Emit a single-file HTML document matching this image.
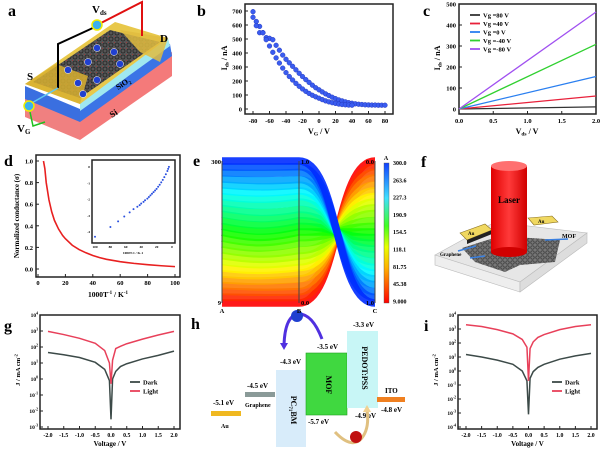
<!DOCTYPE html>
<html><head><meta charset="utf-8">
<style>
html,body{margin:0;padding:0;background:#fff;}
svg{display:block;font-family:"Liberation Serif",serif;font-weight:bold;}
</style></head>
<body>
<svg id="fig" width="600" height="449" viewBox="0 0 600 449" xmlns="http://www.w3.org/2000/svg">
<defs>
<linearGradient id="cbar" x1="0" y1="1" x2="0" y2="0">
<stop offset="0" stop-color="#ff0000"/><stop offset="0.25" stop-color="#ffb000"/><stop offset="0.4" stop-color="#e8ff00"/><stop offset="0.55" stop-color="#40ff20"/><stop offset="0.75" stop-color="#40e0ff"/><stop offset="1" stop-color="#1040ff"/>
</linearGradient>
<linearGradient id="cyl" x1="0" x2="1"><stop offset="0" stop-color="#e00000"/><stop offset="0.5" stop-color="#ff3a3a"/><stop offset="1" stop-color="#d00000"/></linearGradient>
<pattern id="hex" width="6" height="6" patternUnits="userSpaceOnUse"><rect width="6" height="6" fill="#555"/><circle cx="3" cy="3" r="2" fill="none" stroke="#222" stroke-width="0.8"/><circle cx="0" cy="0" r="0.9" fill="#c22"/></pattern>
<pattern id="gr" width="5" height="5" patternUnits="userSpaceOnUse"><rect width="5" height="5" fill="#777"/><circle cx="2.5" cy="2.5" r="1.7" fill="none" stroke="#333" stroke-width="0.7"/></pattern>
</defs>

<!-- ===== Panel a ===== -->
<g>
<text x="8" y="16" font-size="16">a</text>
<polygon points="25,95 80,118 80,140 25,117" fill="#f08080"/>
<polygon points="80,118 172,52 172,76 80,140" fill="#f47a7a"/>
<polygon points="25,86 80,109 80,122 25,99" fill="#3a6fe0"/>
<polygon points="80,109 170,44 172,56 80,122" fill="#3b74e6"/>
<polygon points="80,103 168,38 170,46 80,111" fill="#9fe8f0"/>
<polygon points="25,84 115,22 168,38 80,104" fill="#e8c84a"/>
<polygon points="33,82 110,30 160,42 80,98" fill="url(#hex)"/>
<polygon points="25,84 56,64 88,76 80,104" fill="#d8b030" opacity="0.85"/>
<polygon points="120,30 168,38 160,62 140,52" fill="#e0bc40" opacity="0.85"/>
<polyline points="58,88 58,44 95,27" fill="none" stroke="#000" stroke-width="2"/>
<polyline points="99,24 142,2 142,36" fill="none" stroke="#e01010" stroke-width="2"/>
<circle cx="97" cy="25" r="5" fill="#3bb0f0" stroke="#ee0" stroke-width="1.5"/>
<polyline points="30,104 58,88" fill="none" stroke="#60c8f0" stroke-width="1.5"/>
<polyline points="30,112 33,126 45,122" fill="none" stroke="#20c020" stroke-width="1.5"/>
<circle cx="29" cy="106" r="5" fill="#3bb0f0" stroke="#ee0" stroke-width="1.5"/>
<g fill="#2040d0" stroke="#fff" stroke-width="0.5">
<circle cx="97" cy="48" r="3.5"/><circle cx="114" cy="52" r="3.5"/><circle cx="88" cy="62" r="3.5"/><circle cx="120" cy="64" r="3.5"/><circle cx="68" cy="70" r="3.5"/><circle cx="78" cy="83" r="3.5"/><circle cx="97" cy="80" r="3.5"/><circle cx="83" cy="94" r="3.5"/>
</g>
<text x="92" y="13" font-size="11">V<tspan font-size="7" dy="2">ds</tspan></text>
<text x="160" y="42" font-size="11">D</text>
<text x="27" y="80" font-size="11">S</text>
<text x="17" y="132" font-size="11">V<tspan font-size="7" dy="2">G</tspan></text>
<text x="118" y="90" font-size="8" transform="rotate(-33 118 90)">SiO<tspan font-size="5" dy="2">2</tspan></text>
<text x="112" y="118" font-size="9" transform="rotate(-33 112 118)">Si</text>
</g>

<!-- ===== Panel f ===== -->
<g>
<text x="421" y="167" font-size="16">f</text>
<polygon points="435,255 495,222 587,233 520,282" fill="#e6e6e6" stroke="#bbb" stroke-width="0.6"/>
<polygon points="435,255 520,282 520,292 435,265" fill="#eee" stroke="#bbb" stroke-width="0.6"/>
<polygon points="520,282 587,233 587,243 520,292" fill="#ddd" stroke="#bbb" stroke-width="0.6"/>
<polygon points="462,248 500,236 560,240 555,262 520,265 505,272 475,262" fill="url(#gr)"/>
<polygon points="460,233 485,224 492,230 467,240" fill="#f0d860" stroke="#8a7020" stroke-width="0.6"/>
<polygon points="467,240 492,230 492,234 467,244" fill="#222"/>
<polygon points="528,218 552,216 558,222 534,225" fill="#f0d860" stroke="#8a7020" stroke-width="0.6"/>
<text x="468" y="235" font-size="5">Au</text>
<text x="538" y="223" font-size="5">Au</text>
<rect x="491" y="166" width="36" height="86" fill="url(#cyl)"/>
<ellipse cx="509" cy="166" rx="18" ry="5" fill="#ff7070"/>
<ellipse cx="509" cy="252" rx="18" ry="5" fill="#d00000"/>
<text x="509" y="203" font-size="9" text-anchor="middle">Laser</text>
<path d="M545,240 L568,239 M458,251 L476,246 M470,258 L485,256" stroke="#3a80e0" stroke-width="1.5" fill="none"/>
<text x="562" y="238" font-size="6">MOF</text>
<text x="440" y="256" font-size="5">Graphene</text>
</g>

<!-- ===== Panel h ===== -->
<g font-size="7">
<text x="191" y="329" font-size="16">h</text>
<rect x="211" y="411" width="30" height="5" fill="#f0b820"/>
<text x="213" y="405">-5.1 eV</text>
<text x="221" y="428" font-size="6">Au</text>
<rect x="245" y="392" width="30" height="5" fill="#8a9a98"/>
<text x="247" y="388">-4.5 eV</text>
<text x="245" y="407" font-size="6">Graphene</text>
<rect x="276" y="370" width="30" height="77" fill="#d8ecfa"/>
<text x="291" y="410" font-size="8" transform="rotate(90 291 410)" text-anchor="middle">PC<tspan font-size="5" dy="2">71</tspan><tspan dy="-2">BM</tspan></text>
<text x="280" y="364">-4.3 eV</text>
<text x="281" y="456">-6.1 eV</text>
<rect x="306" y="353" width="41" height="62" fill="#40d840" stroke="#20a020" stroke-width="0.6"/>
<text x="326" y="385" font-size="8" transform="rotate(90 326 385)" text-anchor="middle">MOF</text>
<text x="317" y="349">-3.5 eV</text>
<text x="308" y="424">-5.7 eV</text>
<rect x="347" y="331" width="31" height="77" fill="#c8f6f6"/>
<text x="362" y="368" font-size="8" transform="rotate(90 362 368)" text-anchor="middle">PEDOT:PSS</text>
<text x="353" y="327">-3.3 eV</text>
<text x="355" y="418">-4.9 eV</text>
<rect x="377" y="397" width="28" height="5" fill="#f08020"/>
<text x="385" y="393">ITO</text>
<text x="381" y="412">-4.8 eV</text>
<path d="M322,339 Q312,313 298,314 Q285,316 284,345" fill="none" stroke="#5030e0" stroke-width="3"/>
<polygon points="280,343 288,343 284,350" fill="#5030e0"/>
<circle cx="297" cy="316" r="6" fill="#2040d0"/>
<path d="M335,432 Q350,448 360,440 Q370,430 367,410" fill="none" stroke="#e0c080" stroke-width="3"/>
<polygon points="363,412 371,412 367,405" fill="#f0d090"/>
<circle cx="356" cy="437" r="6" fill="#c01010"/>
</g>

<g id="charts"></g>

<script>
var NS="http://www.w3.org/2000/svg";
var root=document.getElementById('charts');
function mk(tag,attrs,parent,txt){var e=document.createElementNS(NS,tag);for(var k in attrs)e.setAttribute(k,attrs[k]);if(txt!==undefined)e.textContent=txt;(parent||root).appendChild(e);return e;}
function rich(parent,attrs,parts){var t=mk('text',attrs,parent);parts.forEach(function(p){var a={};if(p[1])a['font-size']=p[1];if(p[2])a.dy=p[2];mk('tspan',a,t,p[0]);});return t;}

// ---------- Panel b data ----------
var bForwardV=[-80,-76,-72,-68,-64,-60,-56,-52,-48,-44,-40,-36,-32,-28,-24,-20,-16,-12,-8,-4,0,4,8,12,16,20,24,28,32,36,40,44,48,52,56,60,64,68,72,76,80];
var bForwardI=[695,625,590,545,510,505,495,455,420,385,355,330,305,280,255,232,210,190,170,152,137,122,108,96,84,74,65,58,51,45,41,37,34,32,30,29,28,28,27,27,27];
var bReverseV=[-80,-76,-72,-68,-64,-60,-56,-52,-48,-44,-40,-36,-32,-28,-24,-20,-16,-12,-8,-4,0,4,8,12,16,20,24,28,32,36,40];
var bReverseI=[655,595,545,545,495,450,405,365,328,292,260,232,207,183,162,143,126,111,98,87,77,67,58,51,45,40,35,32,30,28,27];
var bYTicks=[0,100,200,300,400,500,600,700];
var bXTicks=[-80,-60,-40,-20,0,20,40,60,80];

// ---------- Panel c data ----------
var cLabels=["Vg =80 V","Vg =40 V","Vg =0 V","Vg =-40 V","Vg =-80 V"];
var cColors=["#333333","#e8203a","#2a7ff0","#30d030","#a050f0"];
var cIdsAt2V=[10,62,155,308,462];
var cXTicks=[0.0,0.5,1.0,1.5,2.0];
var cYTicks=[0,100,200,300,400,500];

// ---------- Panel d data ----------
var dX=[4,5,6,8,10,12,15,18,20,25,30,35,40,45,50,60,70,80,90,100];
var dSigma=[1.0,0.93,0.8,0.64,0.53,0.45,0.37,0.31,0.28,0.22,0.18,0.15,0.125,0.105,0.09,0.068,0.052,0.04,0.03,0.022];
var dXTicks=[0,20,40,60,80,100];
var dYTicks=[0.0,0.2,0.4,0.6,0.8,1.0];
var dInsetX=[100,80,70,62,55,50,45,42,40,37,35,32,30,28,26,24,22,20,18,16,14,12,10,8,6,5,4];
var dInsetY=[-4.3,-3.7,-3.35,-3.05,-2.8,-2.6,-2.45,-2.35,-2.25,-2.15,-2.05,-1.95,-1.85,-1.75,-1.65,-1.55,-1.45,-1.35,-1.22,-1.1,-0.95,-0.8,-0.63,-0.45,-0.25,-0.12,0];

// ---------- Panel e data ----------
var eA=[9,21,33,45,57,69,81,94,106,118,130,142,154,166,178,191,203,215,227,239,251,263,276,288,300];
var eB=[0,0.04,0.08,0.12,0.17,0.21,0.25,0.29,0.33,0.37,0.42,0.46,0.5,0.54,0.58,0.62,0.66,0.71,0.75,0.79,0.83,0.87,0.92,0.96,1.0];
var eC=[0,0.04,0.08,0.12,0.17,0.21,0.25,0.29,0.33,0.37,0.42,0.46,0.5,0.54,0.58,0.62,0.66,0.71,0.75,0.79,0.83,0.87,0.92,0.96,1.0];
var eCbarLabels=["300.0","263.6","227.3","190.9","154.5","118.1","81.75","45.38","9.000"];

// ---------- Panel g / i data ----------
var gV=[-2,-1.5,-1,-0.5,-0.2,-0.05,0,0.05,0.15,0.3,0.5,1,1.5,2];
var gDark=[45,33,22,11,4,0.8,0.003,1,3,6,9,18,30,55];
var gLight=[950,600,350,170,60,10,0.5,15,80,110,160,310,560,950];
var iDark=[15,10,6,3,1,0.2,0.0008,0.3,0.9,1.8,3,7,12,18];
var iLight=[2000,1500,900,450,180,50,0.2,40,120,250,400,900,1500,2000];
var vTicks=[-2.0,-1.5,-1.0,-0.5,0.0,0.5,1.0,1.5,2.0];

function lin(d0,d1,r0,r1){return function(v){return r0+(v-d0)/(d1-d0)*(r1-r0);};}
function logs(e0,e1,r0,r1){return function(v){return r0+(Math.log10(v)-e0)/(e1-e0)*(r1-r0);};}
function frame(g,x0,y0,x1,y1,name){var r=mk('rect',{x:x0,y:y0,width:x1-x0,height:y1-y0,fill:'none',stroke:'#222','stroke-width':1.5},g);}
function fmt(v,d){return v.toFixed(d);}

// ===== Panel b =====
(function(){
var g=mk('g',{});


mk('text',{x:197,y:16,'font-size':16},g,'b');
var X=lin(-80,80,253,385),Y=lin(0,700,109,11);
frame(g,245,4,393,114,'plot-frame-b');
bYTicks.forEach(function(t){mk('line',{x1:245,x2:248,y1:Y(t),y2:Y(t),stroke:'#222'},g);var tx=mk('text',{x:242,y:Y(t)+2.5,'font-size':6.5,'text-anchor':'end'},g,t);});
bXTicks.forEach(function(t){mk('line',{x1:X(t),x2:X(t),y1:114,y2:111,stroke:'#222'},g);var tx=mk('text',{x:X(t),y:123,'font-size':6.5,'text-anchor':'middle'},g,t);});
var yt=rich(g,{x:0,y:0,'font-size':8,'text-anchor':'middle',transform:'translate(227,58) rotate(-90)'},[['I'],['ds',5.5,1.5],[' / nA',null,-1.5]]);

var xt=rich(g,{x:319,y:134,'font-size':8,'text-anchor':'middle'},[['V'],['G',5.5,1.5],[' / V',null,-1.5]]);

[[bForwardV,bForwardI],[bReverseV,bReverseI]].forEach(function(s,si){s[0].forEach(function(v,i){var c=mk('circle',{cx:X(v),cy:Y(s[1][i]),r:2.4,fill:'#3a5cf0',stroke:'#2030b0','stroke-width':0.4},g);});});
})();

// ===== Panel c =====
(function(){
var g=mk('g',{});


mk('text',{x:423,y:16,'font-size':16},g,'c');
var X=lin(0,2,459,596),Y=lin(0,500,109,4);
frame(g,459,4,596,114,'plot-frame-c');
cYTicks.forEach(function(t){mk('line',{x1:459,x2:462,y1:Y(t),y2:Y(t),stroke:'#222'},g);var tx=mk('text',{x:456,y:Y(t)+2.5,'font-size':6.5,'text-anchor':'end'},g,t);});
cXTicks.forEach(function(t){mk('line',{x1:X(t),x2:X(t),y1:114,y2:111,stroke:'#222'},g);var tx=mk('text',{x:X(t),y:123,'font-size':6.5,'text-anchor':'middle'},g,fmt(t,1));});
var yt=rich(g,{x:0,y:0,'font-size':8,'text-anchor':'middle',transform:'translate(440,58) rotate(-90)'},[['I'],['ds',5.5,1.5],[' / nA',null,-1.5]]);

var xt=rich(g,{x:527,y:134,'font-size':8,'text-anchor':'middle'},[['V'],['ds',5.5,1.5],[' / V',null,-1.5]]);

cIdsAt2V.forEach(function(v,i){var l=mk('line',{x1:X(0),y1:Y(0),x2:X(2),y2:Y(v),stroke:cColors[i],'stroke-width':1.3},g);
var ly=15+i*8.5;mk('line',{x1:470,x2:480,y1:ly,y2:ly,stroke:cColors[i],'stroke-width':1.8},g);var lt=mk('text',{x:483,y:ly+2.5,'font-size':6.5},g,cLabels[i]);});
})();

// ===== Panel d =====
(function(){
var g=mk('g',{});


mk('text',{x:4,y:166,'font-size':16},g,'d');
var X=lin(0,100,38,175),Y=lin(0,1,269,161);
frame(g,36,155,180,277,'plot-frame-d');
dYTicks.forEach(function(t){mk('line',{x1:36,x2:39,y1:Y(t),y2:Y(t),stroke:'#222'},g);var tx=mk('text',{x:33,y:Y(t)+2.5,'font-size':6.5,'text-anchor':'end'},g,fmt(t,1));});
dXTicks.forEach(function(t){mk('line',{x1:X(t),x2:X(t),y1:277,y2:274,stroke:'#222'},g);var tx=mk('text',{x:X(t),y:285,'font-size':6.5,'text-anchor':'middle'},g,t);});
var yt=mk('text',{x:0,y:0,'font-size':7,'text-anchor':'middle',transform:'translate(19,216) rotate(-90)'},g,'Normalized conductance (σ)');
var xt=rich(g,{x:108,y:297,'font-size':7.5,'text-anchor':'middle'},[['1000T'],['-1',5,-3],[' / K',null,3],['-1',5,-3]]);

var p=dX.map(function(v,i){return X(v)+','+Y(dSigma[i]);}).join(' ');
var pl=mk('polyline',{points:p,fill:'none',stroke:'#e82020','stroke-width':1.6},g);
var IX=lin(100,0,95,172),IY=lin(-4.5,0.3,240,162);
frame(g,92,160,175,243,'inset-frame');
[100,80,60,40,20,0].forEach(function(t){var tx=mk('text',{x:IX(t),y:248,'font-size':3.5,'text-anchor':'middle'},g,t);});
[0,-1,-2,-3,-4].forEach(function(t){var tx=mk('text',{x:90,y:IY(t)+1.2,'font-size':3.5,'text-anchor':'end'},g,t);});
var it=mk('text',{x:133,y:254,'font-size':3.5,'text-anchor':'middle'},g,'1000T-1 / K-1');
dInsetX.forEach(function(v,i){var c=mk('circle',{cx:IX(v),cy:IY(dInsetY[i]),r:1,fill:'#2a50e0'},g);});
})();

// ===== Panel e =====
(function(){
var g=mk('g',{});


mk('text',{x:193,y:166,'font-size':16},g,'e');
var xA=222,xB=299,xC=375,yT=161,yBot=303;
var YA=lin(9,300,yBot,yT),YB=lin(0,1,yBot,yT),YC=lin(0,1,yT,yBot);
function col(v){var t=(v-9)/291;var h=t*230;return 'hsl('+h+',100%,50%)';}
eA.forEach(function(a,i){var ya=YA(a),yb=YB(eB[i]),yc=YC(eC[i]);var dip=(0.5-Math.abs(eB[i]-0.5))*14;
var d='M'+xA+','+ya+' C'+(xA+30)+','+(ya+dip)+' '+(xB-30)+','+(yb+dip)+' '+xB+','+yb+' C'+(xB+40)+','+yb+' '+(xC-40)+','+yc+' '+xC+','+yc;
var pth=mk('path',{d:d,fill:'none',stroke:col(a),'stroke-width':7.5,'stroke-opacity':0.9},g);});
[xA,xB,xC].forEach(function(x){mk('line',{x1:x,x2:x,y1:yT,y2:yBot,stroke:'#444','stroke-width':1},g);});
[['300',xA-1,yT+3,'end'],['9',xA-1,yBot+2,'end'],['1.0',xB+2,yT+3,'start'],['0.0',xB+2,yBot+2,'start'],['0.0',xC-1,yT+3,'end'],['1.0',xC-1,yBot+2,'end'],['A',xA,yBot+10,'middle'],['B',xB,yBot+10,'middle'],['C',xC,yBot+10,'middle']].forEach(function(s){var t=mk('text',{x:s[1],y:s[2],'font-size':6.5,'text-anchor':s[3]},g,s[0]);});
var cb=mk('rect',{x:384,y:163,width:5,height:140,fill:'url(#cbar)',stroke:'#555','stroke-width':0.4},g);
mk('text',{x:386,y:160,'font-size':6,'text-anchor':'middle'},g,'A');
eCbarLabels.forEach(function(l,i){var t=mk('text',{x:393,y:165+i*17.3,'font-size':6},g,l);});
})();

// ===== Panels g and i =====
function ivPanel(name,letter,lx,x0,x1,eTop,eBot,dark,light,legX){
var g=mk('g',{});


mk('text',{x:lx,y:331,'font-size':16},g,letter);
var y0=315,y1=429;
var X=lin(-2,2,x0+8,x1-6),Y=logs(eBot,eTop,y1-2,y0);
frame(g,x0,y0,x1,y1,'plot-frame-'+letter);
for(var e=eBot;e<=eTop;e++){var yy=Y(Math.pow(10,e));mk('line',{x1:x0,x2:x0+3,y1:yy,y2:yy,stroke:'#222'},g);var t=rich(g,{x:x0-2,y:yy+2,'font-size':5.5,'text-anchor':'end'},[['10'],[String(e),3.8,-2.5]]);}
vTicks.forEach(function(v){mk('line',{x1:X(v),x2:X(v),y1:y1,y2:y1-3,stroke:'#222'},g);var t=mk('text',{x:X(v),y:437,'font-size':5.8,'text-anchor':'middle'},g,fmt(v,1));});
var yt=rich(g,{x:0,y:0,'font-size':6.5,'text-anchor':'middle',transform:'translate('+(x0-20)+',370) rotate(-90)'},[['J / mA cm'],['-2',4.5,-2.5]]);
var xt=mk('text',{x:(x0+x1)/2,y:446,'font-size':7,'text-anchor':'middle'},g,'Voltage / V');
var dp=mk('polyline',{points:gV.map(function(v,i){return X(v)+','+Y(dark[i]);}).join(' '),fill:'none',stroke:'#3c4a48','stroke-width':1.5},g);
var lp=mk('polyline',{points:gV.map(function(v,i){return X(v)+','+Y(light[i]);}).join(' '),fill:'none',stroke:'#e8405a','stroke-width':1.5},g);
mk('line',{x1:legX,x2:legX+10,y1:382,y2:382,stroke:'#3c4a48','stroke-width':1.8},g);
var l1=mk('text',{x:legX+13,y:384.5,'font-size':6.5},g,'Dark');
mk('line',{x1:legX,x2:legX+10,y1:391,y2:391,stroke:'#e8405a','stroke-width':1.8},g);
var l2=mk('text',{x:legX+13,y:393.5,'font-size':6.5},g,'Light');
}
ivPanel('panel-g','g',4,40,180,4,-3,gDark,gLight,130);
ivPanel('panel-i','i',424,458,597,4,-4,iDark,iLight,552);
</script>
</svg>
</body></html>
